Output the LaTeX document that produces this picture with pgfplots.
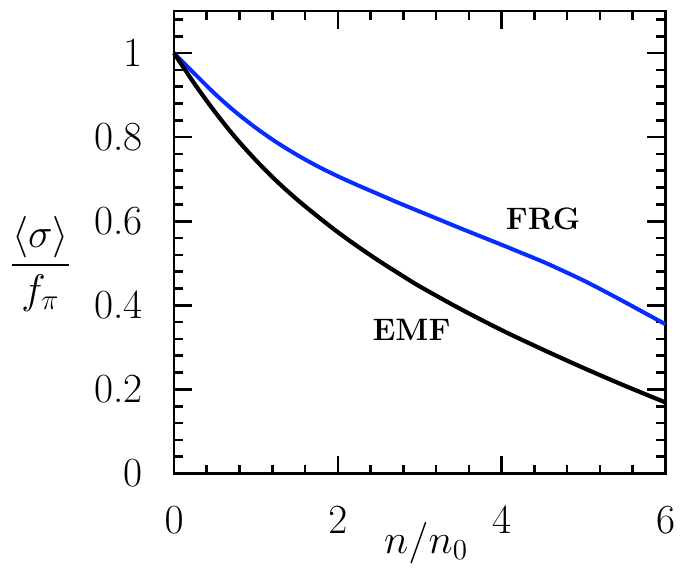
\RequirePackage{fix-cm}
\documentclass[border=0pt]{standalone}
\usepackage{amsmath}
\usepackage{pgfplots}
\pgfplotsset{compat=1.18}
\definecolor{frgblue}{RGB}{5,45,255}
\pgfplotstableread{
x y
0 1
0.25 0.951
0.5 0.903
0.75 0.860
1 0.822
1.25 0.788
1.5 0.758
1.75 0.731
2 0.707
2.25 0.685
2.5 0.664
2.75 0.643
3 0.623
3.25 0.603
3.5 0.583
3.75 0.5635
4 0.544
4.25 0.524
4.5 0.504
4.75 0.482
5 0.459
5.25 0.434
5.5 0.408
5.75 0.3815
6 0.355
}\frg
\pgfplotstableread{
x y
0 1
0.25 0.927
0.5 0.860
0.75 0.799
1 0.745
1.25 0.696
1.5 0.652
1.75 0.612
2 0.574
2.25 0.539
2.5 0.506
2.75 0.475
3 0.445
3.5 0.391
4 0.341
4.5 0.295
5 0.251
5.5 0.209
6 0.169
}\emf
\begin{document}
\begin{tikzpicture}
\begin{axis}[
  scale only axis,
  width=245.75pt, height=231.25pt,
  xmin=0, xmax=6, ymin=0, ymax=1.1,
  xtick={0,2,4,6},
  ytick={0,0.2,0.4,0.6,0.8,1},
  yticklabels={0,0.2,0.4,0.6,0.8,1},
  minor xtick={0.4,0.8,1.2,1.6,2.4,2.8,3.2,3.6,4.4,4.8,5.2,5.6},
  minor ytick={0.04,0.08,0.12,0.16,0.24,0.28,0.32,0.36,0.44,0.48,0.52,0.56,0.64,0.68,0.72,0.76,0.84,0.88,0.92,0.96,1.04,1.08},
  tick align=inside,
  major tick length=9pt,
  minor tick length=4.5pt,
  every tick/.style={black, line width=1.3pt},
  axis line style={line width=1.35pt},
  tick label style={font=\fontsize{20.7}{24}\selectfont},
  xticklabel style={anchor=base, yshift=-29.75pt, inner sep=0pt},
  yticklabel style={anchor=east, xshift=-15.5pt, inner sep=0pt},
  every axis x label/.style={at={(rel axis cs:0.513,0)}, yshift=-39.75pt, anchor=base, font=\fontsize{20.7}{24}\selectfont},
  every axis y label/.style={at={(rel axis cs:-0.2716,0.453)}, anchor=center, font=\fontsize{20.7}{24}\selectfont},
  xlabel={$n/n_0$},
  ylabel={$\dfrac{\langle\sigma\rangle}{f_\pi}$},
  clip=false,
]
\addplot[frgblue, line width=2pt, smooth] table {\frg};
\addplot[black, line width=2.1pt, smooth] table {\emf};
\node[font=\fontsize{15.5}{18}\selectfont\bfseries] at (axis cs:4.505,0.605) {FRG};
\node[font=\fontsize{15.5}{18}\selectfont\bfseries] at (axis cs:2.90,0.342) {EMF};
\end{axis}
\pgfresetboundingbox
\path (-87pt,-47.75pt) rectangle (255.5pt,236.75pt);
\end{tikzpicture}
\end{document}
